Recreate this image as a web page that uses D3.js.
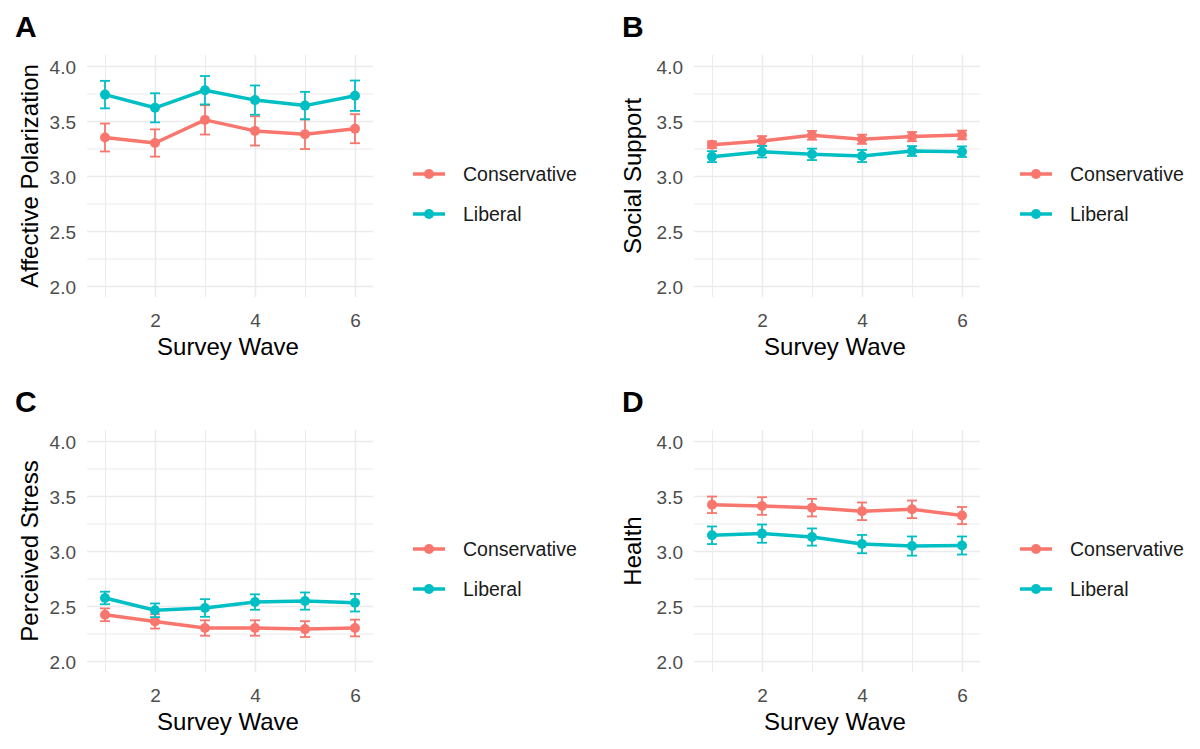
<!DOCTYPE html>
<html>
<head>
<meta charset="utf-8">
<script src="https://cdn.jsdelivr.net/npm/d3@7"></script>
<style>
    body { margin: 0; background: #ffffff; }
    svg { display: block; font-family: "Liberation Sans", Arial, sans-serif; }
</style>
</head>
<body>
<div id="vis"></div>
<script>
// data
var waves = [1, 2, 3, 4, 5, 6];
var groups = ['Conservative', 'Liberal'];
var groupColors = ['#F8766D', '#00BFC4'];
var xTicks = [2, 4, 6];
var xMinor = [1, 3, 5];
var yTicks = [2.0, 2.5, 3.0, 3.5, 4.0];
var yMinor = [2.25, 2.75, 3.25, 3.75];

var polarizationCons    = [3.35, 3.30, 3.51, 3.41, 3.38, 3.43];
var polarizationConsErr = [0.127, 0.124, 0.133, 0.133, 0.135, 0.132];
var polarizationLib     = [3.74, 3.62, 3.78, 3.69, 3.64, 3.73];
var polarizationLibErr  = [0.125, 0.132, 0.129, 0.133, 0.125, 0.138];

var supportCons    = [3.285, 3.318, 3.370, 3.334, 3.358, 3.373];
var supportConsErr = [0.030, 0.045, 0.040, 0.042, 0.042, 0.040];
var supportLib     = [3.176, 3.221, 3.197, 3.182, 3.227, 3.221];
var supportLibErr  = [0.050, 0.052, 0.052, 0.055, 0.045, 0.048];

var stressCons    = [2.42, 2.36, 2.30, 2.30, 2.29, 2.30];
var stressConsErr = [0.058, 0.065, 0.070, 0.070, 0.072, 0.076];
var stressLib     = [2.573, 2.461, 2.482, 2.536, 2.545, 2.530];
var stressLibErr  = [0.057, 0.062, 0.080, 0.070, 0.078, 0.080];

var healthCons    = [3.420, 3.409, 3.394, 3.361, 3.379, 3.322];
var healthConsErr = [0.075, 0.080, 0.080, 0.080, 0.080, 0.078];
var healthLib     = [3.143, 3.158, 3.127, 3.063, 3.045, 3.050];
var healthLibErr  = [0.080, 0.083, 0.078, 0.083, 0.087, 0.082];

var panels = [
    { letter: 'A', title: 'Affective Polarization', col: 0, row: 0,
      means: [polarizationCons, polarizationLib], errs: [polarizationConsErr, polarizationLibErr] },
    { letter: 'B', title: 'Social Support', col: 1, row: 0,
      means: [supportCons, supportLib], errs: [supportConsErr, supportLibErr] },
    { letter: 'C', title: 'Perceived Stress', col: 0, row: 1,
      means: [stressCons, stressLib], errs: [stressConsErr, stressLibErr] },
    { letter: 'D', title: 'Health', col: 1, row: 1,
      means: [healthCons, healthLib], errs: [healthConsErr, healthLibErr] }
];

// layout
var colX = [87, 694];        // panel left edges
var titleX = [38, 641];      // y-title baselines
var letterX = [15, 622];
var rowY = [55, 430];        // panel top edges
var panelW = 286;
var panelH = 242;

var svg = d3.select('#vis')
    .append('svg')
        .attr('width', 1200)
        .attr('height', 749);

svg.append('rect')
    .attr('width', 1200)
    .attr('height', 749)
    .attr('fill', '#ffffff');

var x = d3.scaleLinear().domain([0.64, 6.36]).range([0, panelW]);
var y = d3.scaleLinear().domain([1.9, 4.1]).range([panelH, 0]);

function drawPanel(p)
{
    var left = colX[p.col];
    var top = rowY[p.row];
    var g = svg.append('g')
        .attr('transform', 'translate(' + left + ',' + top + ')');

    // grid: minor first, then major
    var gridMinorY = g.append('g')
        .call(d3.axisLeft(y).tickValues(yMinor).tickSize(-panelW).tickFormat(''));
    var gridMinorX = g.append('g')
        .attr('transform', 'translate(0,' + panelH + ')')
        .call(d3.axisBottom(x).tickValues(xMinor).tickSize(-panelH).tickFormat(''));
    [gridMinorY, gridMinorX].forEach(function(a)
    {
        a.select('.domain').remove();
        a.selectAll('line').attr('stroke', '#EBEBEB').attr('stroke-width', 1.0);
    });

    var yAxis = g.append('g')
        .call(d3.axisLeft(y).tickValues(yTicks).tickSize(-panelW).tickPadding(11)
            .tickFormat(d3.format('.1f')));
    var xAxis = g.append('g')
        .attr('transform', 'translate(0,' + panelH + ')')
        .call(d3.axisBottom(x).tickValues(xTicks).tickSize(-panelH).tickPadding(17)
            .tickFormat(d3.format('d')));
    [yAxis, xAxis].forEach(function(a)
    {
        a.select('.domain').remove();
        a.selectAll('line').attr('stroke', '#EBEBEB').attr('stroke-width', 1.5);
        a.selectAll('text')
            .attr('fill', '#4D4D4D')
            .attr('font-size', '19px')
            .attr('font-family', '"Liberation Sans", Arial, sans-serif');
    });
    yAxis.selectAll('text').attr('dy', '0.4em');

    // series
    groups.forEach(function(name, gi)
    {
        var color = groupColors[gi];
        var rows = waves.map(function(w, i)
        {
            return { wave: w, mean: p.means[gi][i], err: p.errs[gi][i] };
        });

        var bars = g.append('g')
            .attr('stroke', color)
            .attr('stroke-width', 1.8)
            .selectAll('g')
            .data(rows)
            .enter()
            .append('g');
        bars.append('line')
            .attr('x1', function(d) { return x(d.wave); })
            .attr('x2', function(d) { return x(d.wave); })
            .attr('y1', function(d) { return y(d.mean - d.err); })
            .attr('y2', function(d) { return y(d.mean + d.err); });
        bars.append('line')
            .attr('x1', function(d) { return x(d.wave - 0.1); })
            .attr('x2', function(d) { return x(d.wave + 0.1); })
            .attr('y1', function(d) { return y(d.mean + d.err); })
            .attr('y2', function(d) { return y(d.mean + d.err); });
        bars.append('line')
            .attr('x1', function(d) { return x(d.wave - 0.1); })
            .attr('x2', function(d) { return x(d.wave + 0.1); })
            .attr('y1', function(d) { return y(d.mean - d.err); })
            .attr('y2', function(d) { return y(d.mean - d.err); });

        var line = d3.line()
            .x(function(d) { return x(d.wave); })
            .y(function(d) { return y(d.mean); });
        g.append('path')
            .datum(rows)
            .attr('fill', 'none')
            .attr('stroke', color)
            .attr('stroke-width', 3.5)
            .attr('stroke-linejoin', 'round')
            .attr('d', line);

        g.append('g')
            .selectAll('circle')
            .data(rows)
            .enter()
            .append('circle')
            .attr('cx', function(d) { return x(d.wave); })
            .attr('cy', function(d) { return y(d.mean); })
            .attr('r', 5)
            .attr('fill', color);
    });

    // axis titles
    svg.append('text')
        .attr('x', left + panelW / 2 - 2)
        .attr('y', top + panelH + 58)
        .attr('text-anchor', 'middle')
        .attr('font-size', '24px')
        .attr('fill', '#000000')
        .text('Survey Wave');

    svg.append('text')
        .attr('transform', 'translate(' + titleX[p.col] + ',' + (top + panelH / 2) + ') rotate(-90)')
        .attr('text-anchor', 'middle')
        .attr('font-size', '24px')
        .attr('fill', '#000000')
        .text(p.title);

    // panel letter
    svg.append('text')
        .attr('x', letterX[p.col])
        .attr('y', top - 18)
        .attr('font-size', '30px')
        .attr('font-weight', 'bold')
        .attr('fill', '#000000')
        .text(p.letter);

    // legend
    var lx = left + panelW + 40;
    groups.forEach(function(name, gi)
    {
        var ly = top + 119 + gi * 40;
        svg.append('line')
            .attr('x1', lx).attr('x2', lx + 32)
            .attr('y1', ly).attr('y2', ly)
            .attr('stroke', groupColors[gi])
            .attr('stroke-width', 3.5);
        svg.append('circle')
            .attr('cx', lx + 16)
            .attr('cy', ly)
            .attr('r', 5)
            .attr('fill', groupColors[gi]);
        svg.append('text')
            .attr('x', lx + 50)
            .attr('y', ly)
            .attr('dy', '0.36em')
            .attr('font-size', '19.5px')
            .attr('fill', '#1A1A1A')
            .text(name);
    });
}

panels.forEach(drawPanel);
</script>
</body>
</html>
